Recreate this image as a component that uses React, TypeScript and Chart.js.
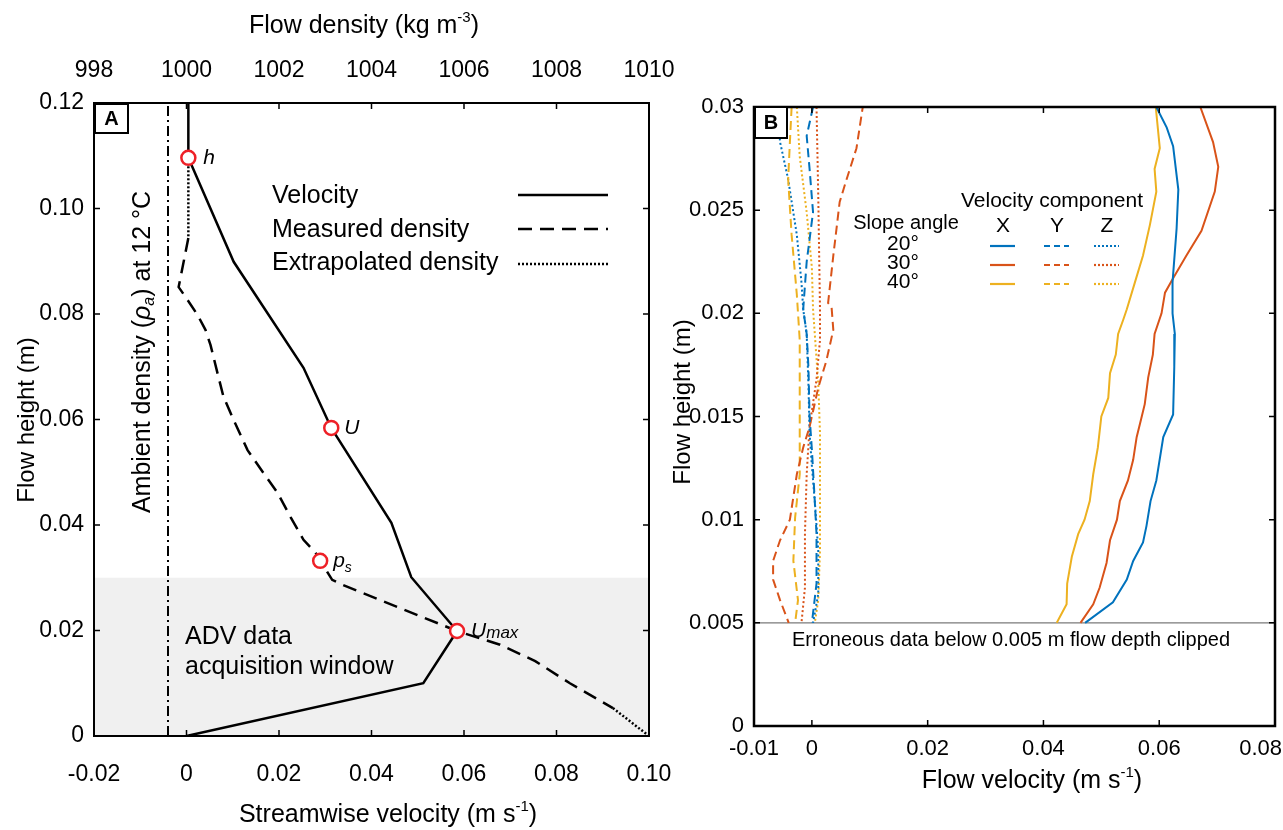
import React, { useEffect, useRef } from 'react';
import { Chart, registerables } from 'chart.js';

Chart.register(...registerables);

const FONT = '"Liberation Sans", Arial, Helvetica, sans-serif';
const BLUE = '#0072BD';
const RED = '#D95319';
const YELLOW = '#EDB120';
const MARKER_RED = '#ee2027';

// ---------------- Panel A data ----------------
const A_X_TICKS = [-0.02, 0, 0.02, 0.04, 0.06, 0.08, 0.1];
const A_X_TICK_LABELS = ['-0.02', '0', '0.02', '0.04', '0.06', '0.08', '0.10'];
const A_DENSITY_TICKS = [998, 1000, 1002, 1004, 1006, 1008, 1010];
const A_DENSITY_TICK_LABELS = ['998', '1000', '1002', '1004', '1006', '1008', '1010'];
const A_Y_TICKS = [0, 0.02, 0.04, 0.06, 0.08, 0.1, 0.12];
const A_Y_TICK_LABELS = ['0', '0.02', '0.04', '0.06', '0.08', '0.10', '0.12'];

const A_VELOCITY_HEIGHT = [0.12, 0.1096, 0.0899, 0.0698, 0.0584, 0.0404, 0.0301, 0.0199, 0.01, 0];
const A_VELOCITY = [0.0004, 0.0004, 0.0102, 0.0253, 0.0313, 0.0443, 0.0486, 0.0585, 0.0512, 0];

const A_MEASURED_HEIGHT = [0.0944, 0.0851, 0.0827, 0.0798, 0.077, 0.0741, 0.0688, 0.0643, 0.0599, 0.0542, 0.0499, 0.0461, 0.0415, 0.0372, 0.0347, 0.0296, 0.0286, 0.0199, 0.0173, 0.0142, 0.01, 0.0053];
const A_MEASURED_DENSITY = [1000.04, 999.83, 1000.02, 1000.24, 1000.41, 1000.52, 1000.67, 1000.8, 1001.02, 1001.32, 1001.66, 1001.97, 1002.25, 1002.53, 1002.79, 1003.15, 1003.39, 1005.85, 1006.78, 1007.54, 1008.29, 1009.22];

const A_EXTRAP_TOP_HEIGHT = [0.108, 0.0944];
const A_EXTRAP_TOP_DENSITY = [1000.04, 1000.04];
const A_EXTRAP_BOTTOM_HEIGHT = [0.0053, 0];
const A_EXTRAP_BOTTOM_DENSITY = [1009.22, 1010];

const A_AMBIENT_DENSITY = 999.6;
const A_AMBIENT_HEIGHT = [0, 0.12];

const A_MARKER_VELOCITY = [0.0004, 0.0313, 0.0585];
const A_MARKER_HEIGHT = [0.1096, 0.0584, 0.0199];
const A_PS_DENSITY = [1002.89];
const A_PS_HEIGHT = [0.0332];

const A_ADV_WINDOW = [0, 0.03];

// ---------------- Panel B data ----------------
const B_X_TICKS = [-0.01, 0, 0.02, 0.04, 0.06, 0.08];
const B_X_TICK_LABELS = ['-0.01', '0', '0.02', '0.04', '0.06', '0.08'];
const B_Y_TICKS = [0, 0.005, 0.01, 0.015, 0.02, 0.025, 0.03];
const B_Y_TICK_LABELS = ['0', '0.005', '0.01', '0.015', '0.02', '0.025', '0.03'];
const B_CLIP_HEIGHT = 0.005;

const B_X20_H = [0.03, 0.029, 0.0281, 0.026, 0.0241, 0.0215, 0.02, 0.019, 0.0174, 0.0151, 0.014, 0.0119, 0.0109, 0.0097, 0.0089, 0.008, 0.0071, 0.006, 0.005];
const B_X20_V = [0.0595, 0.0613, 0.0624, 0.0633, 0.063, 0.0623, 0.0623, 0.0627, 0.0626, 0.0624, 0.0607, 0.0595, 0.0585, 0.0578, 0.0572, 0.0555, 0.0544, 0.052, 0.0472];

const B_X30_H = [0.03, 0.0283, 0.0271, 0.0259, 0.024, 0.0228, 0.0217, 0.021, 0.02, 0.019, 0.018, 0.0169, 0.0156, 0.0149, 0.014, 0.0129, 0.0119, 0.0109, 0.01, 0.009, 0.0079, 0.0067, 0.0059, 0.005];
const B_X30_V = [0.0671, 0.0693, 0.0702, 0.0696, 0.0673, 0.0647, 0.0624, 0.061, 0.0604, 0.0592, 0.0589, 0.0581, 0.0575, 0.0569, 0.0561, 0.0555, 0.0546, 0.0532, 0.0527, 0.0515, 0.0509, 0.0497, 0.0486, 0.0464];

const B_X40_H = [0.03, 0.028, 0.027, 0.0259, 0.0243, 0.0228, 0.0215, 0.0202, 0.0197, 0.019, 0.018, 0.0171, 0.0159, 0.015, 0.0135, 0.0122, 0.0109, 0.01, 0.0093, 0.0082, 0.0069, 0.0059, 0.005];
const B_X40_V = [0.0594, 0.0601, 0.0592, 0.0595, 0.0584, 0.0572, 0.0558, 0.0544, 0.0538, 0.0529, 0.0525, 0.0515, 0.0512, 0.05, 0.0494, 0.0486, 0.048, 0.0471, 0.046, 0.0449, 0.0441, 0.044, 0.0423];

const B_Y20_H = [0.03, 0.0286, 0.027, 0.0249, 0.0225, 0.0202, 0.019, 0.0174, 0.015, 0.0134, 0.0109, 0.0093, 0.0069, 0.005];
const B_Y20_V = [0.0002, -0.0009, -0.0004, 0.0002, -0.0009, -0.0015, -0.0009, -0.0006, -0.0004, 0.0, 0.0005, 0.0008, 0.0008, 0.0];

const B_Y30_H = [0.0302, 0.028, 0.0265, 0.0254, 0.0228, 0.0205, 0.0203, 0.0192, 0.0177, 0.0164, 0.0145, 0.0135, 0.0122, 0.01, 0.009, 0.008, 0.0071, 0.0061, 0.005];
const B_Y30_V = [0.0089, 0.0077, 0.006, 0.0048, 0.0037, 0.0028, 0.0034, 0.0037, 0.0025, 0.0011, -0.0004, -0.0015, -0.0026, -0.0038, -0.0055, -0.0067, -0.0067, -0.0055, -0.004];

const B_Y40_H = [0.03, 0.0283, 0.0265, 0.0238, 0.0209, 0.0187, 0.0166, 0.0142, 0.0122, 0.0101, 0.008, 0.0061, 0.005];
const B_Y40_V = [-0.0035, -0.0038, -0.0041, -0.0035, -0.0026, -0.0021, -0.0021, -0.0021, -0.0021, -0.0029, -0.0032, -0.0024, -0.0029];

const B_Z20_H = [0.03, 0.0283, 0.0265, 0.0238, 0.0215, 0.0202, 0.019, 0.0166, 0.0142, 0.0126, 0.0109, 0.0085, 0.0064, 0.005];
const B_Z20_V = [-0.0059, -0.0055, -0.0041, -0.0026, -0.0018, -0.0015, -0.0009, -0.0006, -0.0004, 0.0, 0.0005, 0.0011, 0.0011, 0.0002];

const B_Z30_H = [0.03, 0.0257, 0.0202, 0.0187, 0.0168, 0.0145, 0.0122, 0.0093, 0.0067, 0.005];
const B_Z30_V = [0.0008, 0.0011, 0.0014, 0.0014, 0.0008, -0.0004, -0.0009, -0.0012, -0.0012, -0.0018];

const B_Z40_H = [0.03, 0.0276, 0.0249, 0.0222, 0.0202, 0.019, 0.0166, 0.0142, 0.0118, 0.0085, 0.0061, 0.005];
const B_Z40_V = [-0.0026, -0.0021, -0.0009, 0.0, 0.0002, 0.0005, 0.0011, 0.0014, 0.0014, 0.0014, 0.0011, 0.0005];

const B_SLOPES = ['20°', '30°', '40°'];
const B_COMPONENTS = ['X', 'Y', 'Z'];
const B_COLORS = [BLUE, RED, YELLOW];

// ---------------- helpers ----------------
const pts = (xs: number[], ys: number[]) => xs.map((x, i) => ({ x, y: ys[i] }));

type Part = { t: string; size: number; italic?: boolean; bold?: boolean; dy?: number };
function drawRich(ctx: CanvasRenderingContext2D, parts: Part[], x: number, y: number, align: 'left' | 'center' | 'right', rotate = 0) {
  ctx.save();
  ctx.translate(x, y);
  if (rotate) ctx.rotate(rotate);
  const fonts = parts.map(p => `${p.italic ? 'italic ' : ''}${p.bold ? 'bold ' : ''}${p.size}px ${FONT}`);
  let total = 0;
  const widths = parts.map((p, i) => {
    ctx.font = fonts[i];
    const w = ctx.measureText(p.t).width;
    total += w;
    return w;
  });
  let cx = align === 'left' ? 0 : align === 'center' ? -total / 2 : -total;
  ctx.textBaseline = 'middle';
  ctx.textAlign = 'left';
  ctx.fillStyle = '#000';
  parts.forEach((p, i) => {
    ctx.font = fonts[i];
    ctx.fillText(p.t, cx, p.dy || 0);
    cx += widths[i];
  });
  ctx.restore();
}

function strokeLine(ctx: CanvasRenderingContext2D, x1: number, y1: number, x2: number, y2: number, color: string, width: number, dash: number[]) {
  ctx.save();
  ctx.strokeStyle = color;
  ctx.lineWidth = width;
  ctx.setLineDash(dash);
  ctx.beginPath();
  ctx.moveTo(x1, y1);
  ctx.lineTo(x2, y2);
  ctx.stroke();
  ctx.restore();
}

function drawFrameAndTicks(chart: any, bottom: any, top: any, frameWidth: number) {
  const { ctx, chartArea: ca } = chart;
  const y = chart.scales.y;
  const L = 6;
  ctx.save();
  ctx.strokeStyle = '#000';
  ctx.lineWidth = 1.5;
  ctx.beginPath();
  for (const t of bottom.ticks) {
    const px = bottom.getPixelForValue(t.value);
    ctx.moveTo(px, ca.bottom);
    ctx.lineTo(px, ca.bottom - L);
  }
  for (const t of top.ticks) {
    const px = top.getPixelForValue(t.value);
    ctx.moveTo(px, ca.top);
    ctx.lineTo(px, ca.top + L);
  }
  for (const t of y.ticks) {
    const py = y.getPixelForValue(t.value);
    ctx.moveTo(ca.left, py);
    ctx.lineTo(ca.left + L, py);
    ctx.moveTo(ca.right, py);
    ctx.lineTo(ca.right - L, py);
  }
  ctx.stroke();
  ctx.lineWidth = frameWidth;
  ctx.strokeRect(ca.left, ca.top, ca.right - ca.left, ca.bottom - ca.top);
  ctx.restore();
}

function drawPanelBox(ctx: CanvasRenderingContext2D, x: number, y: number, w: number, h: number, label: string) {
  ctx.save();
  ctx.fillStyle = '#fff';
  ctx.fillRect(x, y, w, h);
  ctx.strokeStyle = '#000';
  ctx.lineWidth = 2;
  ctx.strokeRect(x, y, w, h);
  ctx.fillStyle = '#000';
  ctx.font = `bold 20px ${FONT}`;
  ctx.textAlign = 'center';
  ctx.textBaseline = 'middle';
  ctx.fillText(label, x + w / 2, y + h / 2 + 1);
  ctx.restore();
}

const tickFont = { family: FONT, size: 23 };

// ---------------- Panel A plugin ----------------
const panelAPlugin = {
  id: 'panelA',
  beforeDatasetsDraw(chart: any) {
    const { ctx, chartArea: ca, scales } = chart;
    const yTop = scales.y.getPixelForValue(A_ADV_WINDOW[1]);
    const yBot = scales.y.getPixelForValue(A_ADV_WINDOW[0]);
    ctx.save();
    ctx.fillStyle = '#f0f0f0';
    ctx.fillRect(ca.left, yTop, ca.right - ca.left, yBot - yTop);
    ctx.restore();
  },
  afterDraw(chart: any) {
    const { ctx, scales } = chart;
    drawFrameAndTicks(chart, scales.x, scales.x2, 2);
    const x = scales.x, x2 = scales.x2, y = scales.y;

    // axis titles
    drawRich(ctx, [{ t: 'Flow density (kg m', size: 25 }, { t: '-3', size: 15, dy: -8 }, { t: ')', size: 25 }], 364, 26, 'center');
    drawRich(ctx, [{ t: 'Streamwise velocity (m s', size: 25 }, { t: '-1', size: 15, dy: -8 }, { t: ')', size: 25 }], 388, 815, 'center');
    drawRich(ctx, [{ t: 'Flow height (m)', size: 24 }], 27, 420, 'center', -Math.PI / 2);

    // ambient density annotation
    drawRich(ctx, [
      { t: 'Ambient density (', size: 25 },
      { t: 'ρ', size: 25, italic: true },
      { t: 'a', size: 16, italic: true, dy: 7 },
      { t: ') at 12 °C', size: 25 },
    ], 143, 352, 'center', -Math.PI / 2);

    // legend
    const lx1 = 518, lx2 = 608;
    drawRich(ctx, [{ t: 'Velocity', size: 25 }], 272, 196, 'left');
    drawRich(ctx, [{ t: 'Measured density', size: 25 }], 272, 230, 'left');
    drawRich(ctx, [{ t: 'Extrapolated density', size: 25 }], 272, 263, 'left');
    strokeLine(ctx, lx1, 195, lx2, 195, '#000', 2.5, []);
    strokeLine(ctx, lx1, 229, lx2, 229, '#000', 2.5, [14, 8]);
    strokeLine(ctx, lx1, 264, lx2, 264, '#000', 2.5, [2, 2]);

    // ADV window label
    drawRich(ctx, [{ t: 'ADV data', size: 25 }], 185, 637, 'left');
    drawRich(ctx, [{ t: 'acquisition window', size: 25 }], 185, 667, 'left');

    // marker labels
    const hx = x.getPixelForValue(A_MARKER_VELOCITY[0]), hy = y.getPixelForValue(A_MARKER_HEIGHT[0]);
    drawRich(ctx, [{ t: 'h', size: 21, italic: true }], hx + 15, hy, 'left');
    const ux = x.getPixelForValue(A_MARKER_VELOCITY[1]), uy = y.getPixelForValue(A_MARKER_HEIGHT[1]);
    drawRich(ctx, [{ t: 'U', size: 21, italic: true }], ux + 13, uy, 'left');
    const mx = x.getPixelForValue(A_MARKER_VELOCITY[2]), my = y.getPixelForValue(A_MARKER_HEIGHT[2]);
    drawRich(ctx, [{ t: 'U', size: 21, italic: true }, { t: 'max', size: 17, italic: true, dy: 2 }], mx + 14, my, 'left');
    const px = x2.getPixelForValue(A_PS_DENSITY[0]), py = y.getPixelForValue(A_PS_HEIGHT[0]);
    drawRich(ctx, [{ t: 'p', size: 21, italic: true }, { t: 's', size: 14, italic: true, dy: 7 }], px + 13, py, 'left');

    drawPanelBox(ctx, 95, 104, 33, 29, 'A');
  },
};

// ---------------- Panel B plugin ----------------
const panelBPlugin = {
  id: 'panelB',
  beforeDatasetsDraw(chart: any) {
    const { ctx, chartArea: ca, scales } = chart;
    const py = scales.y.getPixelForValue(B_CLIP_HEIGHT);
    strokeLine(ctx, ca.left, py, ca.right, py, '#7a7a7a', 1.2, []);
  },
  afterDraw(chart: any) {
    const { ctx, chartArea: ca, scales } = chart;
    drawFrameAndTicks(chart, scales.x, scales.x, 2.5);
    const xs = scales.x;

    // x tick labels (last one kept inside the page)
    ctx.save();
    ctx.font = `22px ${FONT}`;
    ctx.fillStyle = '#000';
    ctx.textAlign = 'center';
    ctx.textBaseline = 'middle';
    xs.ticks.forEach((t: any, i: number) => {
      const label = B_X_TICK_LABELS[i];
      const w = ctx.measureText(label).width;
      let cx = xs.getPixelForValue(t.value);
      if (cx + w / 2 > chart.width - 1) cx = chart.width - 1 - w / 2;
      ctx.fillText(label, cx, ca.bottom + 23);
    });
    ctx.restore();

    drawRich(ctx, [{ t: 'Flow velocity (m s', size: 25 }, { t: '-1', size: 15, dy: -8 }, { t: ')', size: 25 }], 382, 781, 'center');
    drawRich(ctx, [{ t: 'Flow height (m)', size: 24 }], 33, 402, 'center', -Math.PI / 2);

    // clipped note
    drawRich(ctx, [{ t: 'Erroneous data below 0.005 m flow depth clipped', size: 20 }], 361, 640, 'center');

    // legend
    const off = 650;
    drawRich(ctx, [{ t: 'Velocity component', size: 21 }], 1052 - off, 201, 'center');
    drawRich(ctx, [{ t: 'Slope angle', size: 20 }], 906 - off, 223, 'center');
    const colX = [1003, 1057, 1107].map(v => v - off);
    B_COMPONENTS.forEach((c, i) => drawRich(ctx, [{ t: c, size: 21 }], colX[i], 226, 'center'));
    const rowY = [245, 264, 283];
    const dashes = [[], [6, 4], [2, 2]];
    B_SLOPES.forEach((s, r) => {
      drawRich(ctx, [{ t: s, size: 21 }], 903 - off, rowY[r] - 1, 'center');
      colX.forEach((cx, c) => {
        strokeLine(ctx, cx - 13, rowY[r] + 1, cx + 12, rowY[r] + 1, B_COLORS[r], 2.2, dashes[c]);
      });
    });

    drawPanelBox(ctx, 105, 107, 32, 31, 'B');
  },
};

function PanelA() {
  const ref = useRef<HTMLCanvasElement>(null);
  useEffect(() => {
    if (!ref.current) return;
    const chart = new Chart(ref.current, {
      type: 'scatter',
      data: {
        datasets: [
          {
            label: 'Markers', data: pts(A_MARKER_VELOCITY, A_MARKER_HEIGHT), xAxisID: 'x',
            pointRadius: 7, pointBorderWidth: 2.5, pointBorderColor: MARKER_RED, pointBackgroundColor: '#fff', showLine: false,
          },
          {
            label: 'ps', data: pts(A_PS_DENSITY, A_PS_HEIGHT), xAxisID: 'x2',
            pointRadius: 7, pointBorderWidth: 2.5, pointBorderColor: MARKER_RED, pointBackgroundColor: '#fff', showLine: false,
          },
          {
            label: 'Velocity', data: pts(A_VELOCITY, A_VELOCITY_HEIGHT), xAxisID: 'x',
            showLine: true, borderColor: '#000', borderWidth: 2.5, pointRadius: 0, tension: 0,
          },
          {
            label: 'Measured density', data: pts(A_MEASURED_DENSITY, A_MEASURED_HEIGHT), xAxisID: 'x2',
            showLine: true, borderColor: '#000', borderWidth: 2.5, borderDash: [14, 8], pointRadius: 0, tension: 0,
          },
          {
            label: 'Extrapolated top', data: pts(A_EXTRAP_TOP_DENSITY, A_EXTRAP_TOP_HEIGHT), xAxisID: 'x2',
            showLine: true, borderColor: '#000', borderWidth: 2.5, borderDash: [2, 2], pointRadius: 0,
          },
          {
            label: 'Extrapolated bottom', data: pts(A_EXTRAP_BOTTOM_DENSITY, A_EXTRAP_BOTTOM_HEIGHT), xAxisID: 'x2',
            showLine: true, borderColor: '#000', borderWidth: 2.5, borderDash: [2, 2], pointRadius: 0,
          },
          {
            label: 'Ambient', data: A_AMBIENT_HEIGHT.map(h => ({ x: A_AMBIENT_DENSITY, y: h })), xAxisID: 'x2',
            showLine: true, borderColor: '#000', borderWidth: 2, borderDash: [10, 4, 2, 4], pointRadius: 0,
          },
        ],
      },
      options: {
        animation: false,
        responsive: false,
        devicePixelRatio: 1,
        layout: { padding: { left: 0, right: 51, top: 0, bottom: 0 } },
        plugins: { legend: { display: false }, tooltip: { enabled: false } },
        scales: {
          x: {
            type: 'linear', position: 'bottom', min: -0.02, max: 0.1,
            afterBuildTicks: (s: any) => { s.ticks = A_X_TICKS.map(v => ({ value: v })); },
            afterFit: (s: any) => { s.height = 94; s.paddingLeft = 0; s.paddingRight = 0; },
            ticks: { callback: (_v: any, i: number) => A_X_TICK_LABELS[i], font: tickFont, color: '#000', padding: 25, maxRotation: 0, autoSkip: false },
            grid: { display: false, drawTicks: false }, border: { display: false },
          },
          x2: {
            type: 'linear', position: 'top', min: 998, max: 1010,
            afterBuildTicks: (s: any) => { s.ticks = A_DENSITY_TICKS.map(v => ({ value: v })); },
            afterFit: (s: any) => { s.height = 103; s.paddingLeft = 0; s.paddingRight = 0; },
            ticks: { callback: (_v: any, i: number) => A_DENSITY_TICK_LABELS[i], font: tickFont, color: '#000', padding: 19, maxRotation: 0, autoSkip: false },
            grid: { display: false, drawTicks: false }, border: { display: false },
          },
          y: {
            type: 'linear', position: 'left', min: 0, max: 0.12,
            afterBuildTicks: (s: any) => { s.ticks = A_Y_TICKS.map(v => ({ value: v })); },
            afterFit: (s: any) => { s.width = 94; s.paddingTop = 0; s.paddingBottom = 0; },
            ticks: { callback: (_v: any, i: number) => A_Y_TICK_LABELS[i], font: tickFont, color: '#000', padding: 10, autoSkip: false },
            grid: { display: false, drawTicks: false }, border: { display: false },
          },
        },
      } as any,
      plugins: [panelAPlugin],
    });
    return () => chart.destroy();
  }, []);
  return <canvas ref={ref} width={700} height={830} style={{ position: 'absolute', left: 0, top: 0 }} />;
}

function PanelB() {
  const ref = useRef<HTMLCanvasElement>(null);
  useEffect(() => {
    if (!ref.current) return;
    const series = [
      { h: B_X20_H, v: B_X20_V, c: BLUE, d: [] as number[] },
      { h: B_X30_H, v: B_X30_V, c: RED, d: [] as number[] },
      { h: B_X40_H, v: B_X40_V, c: YELLOW, d: [] as number[] },
      { h: B_Y20_H, v: B_Y20_V, c: BLUE, d: [9, 5] },
      { h: B_Y30_H, v: B_Y30_V, c: RED, d: [9, 5] },
      { h: B_Y40_H, v: B_Y40_V, c: YELLOW, d: [9, 5] },
      { h: B_Z20_H, v: B_Z20_V, c: BLUE, d: [2, 2.5] },
      { h: B_Z30_H, v: B_Z30_V, c: RED, d: [2, 2.5] },
      { h: B_Z40_H, v: B_Z40_V, c: YELLOW, d: [2, 2.5] },
    ];
    const chart = new Chart(ref.current, {
      type: 'scatter',
      data: {
        datasets: series.map((s, i) => ({
          label: 'S' + i,
          data: pts(s.v, s.h),
          showLine: true,
          borderColor: s.c,
          borderWidth: 2,
          borderDash: s.d,
          pointRadius: 0,
          tension: 0,
        })),
      },
      options: {
        animation: false,
        responsive: false,
        devicePixelRatio: 1,
        layout: { padding: { left: 0, right: 8, top: 107, bottom: 0 } },
        plugins: { legend: { display: false }, tooltip: { enabled: false } },
        scales: {
          x: {
            type: 'linear', position: 'bottom', min: -0.01, max: 0.08,
            afterBuildTicks: (s: any) => { s.ticks = B_X_TICKS.map(v => ({ value: v })); },
            afterFit: (s: any) => { s.height = 104; s.paddingLeft = 0; s.paddingRight = 0; },
            ticks: { display: false },
            grid: { display: false, drawTicks: false }, border: { display: false },
          },
          y: {
            type: 'linear', position: 'left', min: 0, max: 0.03,
            afterBuildTicks: (s: any) => { s.ticks = B_Y_TICKS.map(v => ({ value: v })); },
            afterFit: (s: any) => { s.width = 104; s.paddingTop = 0; s.paddingBottom = 0; },
            ticks: { callback: (_v: any, i: number) => B_Y_TICK_LABELS[i], font: { family: FONT, size: 22 }, color: '#000', padding: 10, autoSkip: false },
            grid: { display: false, drawTicks: false }, border: { display: false },
          },
        },
      } as any,
      plugins: [panelBPlugin],
    });
    return () => chart.destroy();
  }, []);
  return <canvas ref={ref} width={633} height={830} style={{ position: 'absolute', left: 650, top: 0 }} />;
}

export default function App() {
  return (
    <div style={{ position: 'absolute', left: 0, top: 0, width: 1283, height: 830, background: '#fff', overflow: 'hidden' }}>
      <PanelA />
      <PanelB />
    </div>
  );
}
